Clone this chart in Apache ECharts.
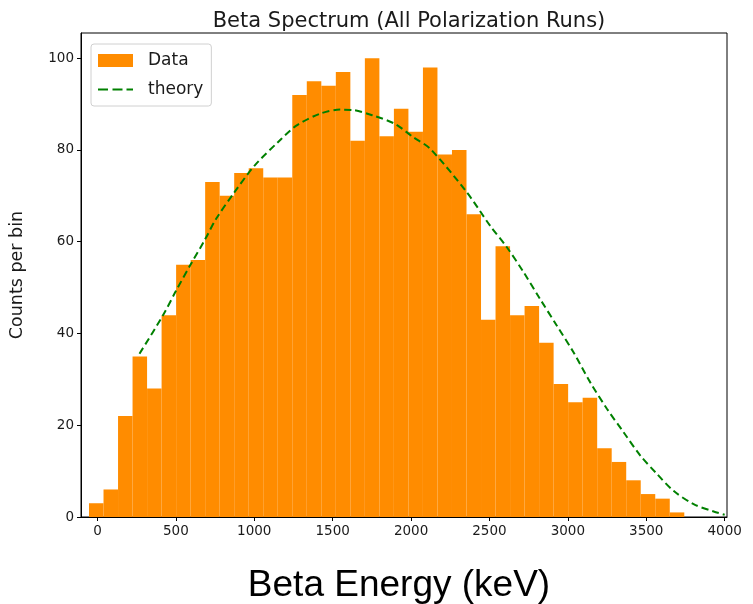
<!DOCTYPE html>
<html>
<head>
<meta charset="utf-8">
<script src="https://cdn.jsdelivr.net/npm/echarts@6/dist/echarts.min.js"></script>
<style>html,body{margin:0;padding:0;background:#fff;}#c{width:753px;height:604px;}</style>
</head>
<body>
<div id="c"></div>
<script>
// Histogram: bin start (keV), bin width (keV), counts per bin
const binStart = -54;
const binWidth = 92.6;
const counts = [3, 6, 22, 35, 28, 44, 55, 56, 73, 70, 75, 76, 74, 74, 92, 95, 94, 97, 82, 100,
  83, 89, 84, 98, 79, 80, 66, 43, 59, 44, 46, 38, 29, 25, 26, 15, 12, 8, 5, 4, 1];

// Theory curve
const theoryX = [268, 417, 501, 597, 683, 757, 874, 1002, 1151, 1268, 1419, 1547, 1631, 1759, 1897,
  2014, 2121, 2355, 2504, 2611, 2717, 2823, 2930, 3036, 3142, 3249, 3355, 3462, 3568, 3674, 3802, 3930, 4000];
const theoryY = [35.6, 43.9, 49.3, 55.2, 60.3, 65.0, 70.8, 76.6, 81.7, 85.3, 87.9, 88.8, 88.7, 87.5, 85.7,
  82.8, 80.3, 70.8, 63.5, 58.8, 53.4, 47.5, 41.7, 35.9, 29.4, 23.6, 18.5, 13.4, 9.4, 5.7, 2.8, 1.2, 0.5];

const xTicks = [0, 500, 1000, 1500, 2000, 2500, 3000, 3500, 4000];
const yTicks = [0, 20, 40, 60, 80, 100];

const histData = counts.map((c, i) => [binStart + i * binWidth, binStart + (i + 1) * binWidth, c]);
const theoryData = theoryX.map((x, i) => [x, theoryY[i]]);

const dashIcon = 'path://M0,0L0.01,0L0,0.01Z M34.99,13L35,13L35,12.99Z M0,5.5h10v2h-10z M14.5,5.5h10v2h-10z M28.5,5.5h6.5v2h-6.5z';

const chart = echarts.init(document.getElementById('c'), null, {renderer: 'canvas'});
const tickFont = {fontFamily: 'DejaVu Sans', fontSize: 13.5, color: '#1a1a1a', formatter: v => String(v)};
chart.setOption({
  animation: false,
  backgroundColor: '#fff',
  title: [
    {text: 'Beta Spectrum (All Polarization Runs)', left: 404, top: 6, textAlign: 'center',
     textStyle: {fontFamily: 'DejaVu Sans', fontSize: 21, fontWeight: 'normal', color: '#1a1a1a'}},
    {text: 'Beta Energy (keV)', left: 394, top: 562, textAlign: 'center',
     textStyle: {fontFamily: 'Liberation Sans', fontSize: 37, fontWeight: 'normal', color: '#000'}}
  ],
  grid: {left: 81, right: 26, top: 33, bottom: 87, show: true, borderColor: '#000', borderWidth: 1, backgroundColor: 'transparent'},
  legend: {
    orient: 'vertical', left: 91, top: 44, padding: [8, 8, 8, 7], itemGap: 12,
    itemWidth: 35, itemHeight: 13,
    backgroundColor: 'rgba(255,255,255,0.8)', borderColor: '#d0d0d0', borderWidth: 1, borderRadius: 3,
    textStyle: {fontFamily: 'DejaVu Sans', fontSize: 17, color: '#1a1a1a', padding: [0, 0, 0, 10]},
    data: [{name: 'Data', icon: 'rect'}, {name: 'theory', icon: dashIcon}]
  },
  xAxis: {
    type: 'value', min: -105, max: 4015,
    axisLine: {show: true, onZero: false, lineStyle: {color: '#000'}},
    axisTick: {show: true, length: 4, lineStyle: {color: '#000'}, customValues: xTicks},
    axisLabel: {...tickFont, margin: 7, customValues: xTicks},
    splitLine: {show: false}
  },
  yAxis: {
    type: 'value', min: 0, max: 105.5,
    name: 'Counts per bin', nameLocation: 'middle', nameGap: 55, nameRotate: 90,
    nameTextStyle: {fontFamily: 'DejaVu Sans', fontSize: 17.5, color: '#1a1a1a'},
    axisLine: {show: true, onZero: false, lineStyle: {color: '#000'}},
    axisTick: {show: true, length: 4, lineStyle: {color: '#000'}, customValues: yTicks},
    axisLabel: {...tickFont, margin: 7, customValues: yTicks},
    splitLine: {show: false}
  },
  series: [
    {
      name: 'Data', type: 'custom', color: '#ff8c00',
      encode: {x: [0, 1], y: 2},
      renderItem: function (params, api) {
        const p0 = api.coord([api.value(0), api.value(2)]);
        const p1 = api.coord([api.value(1), 0]);
        return {type: 'rect', shape: {x: p0[0], y: p0[1], width: p1[0] - p0[0], height: p1[1] - p0[1]},
          style: {fill: '#ff8c00'}};
      },
      data: histData, z: 2
    },
    {
      name: 'theory', type: 'line', data: theoryData, smooth: 0.3, symbol: 'none', color: '#008000',
      lineStyle: {color: '#008000', width: 2, type: [7, 4]}, z: 3
    }
  ]
});
</script>
</body>
</html>
